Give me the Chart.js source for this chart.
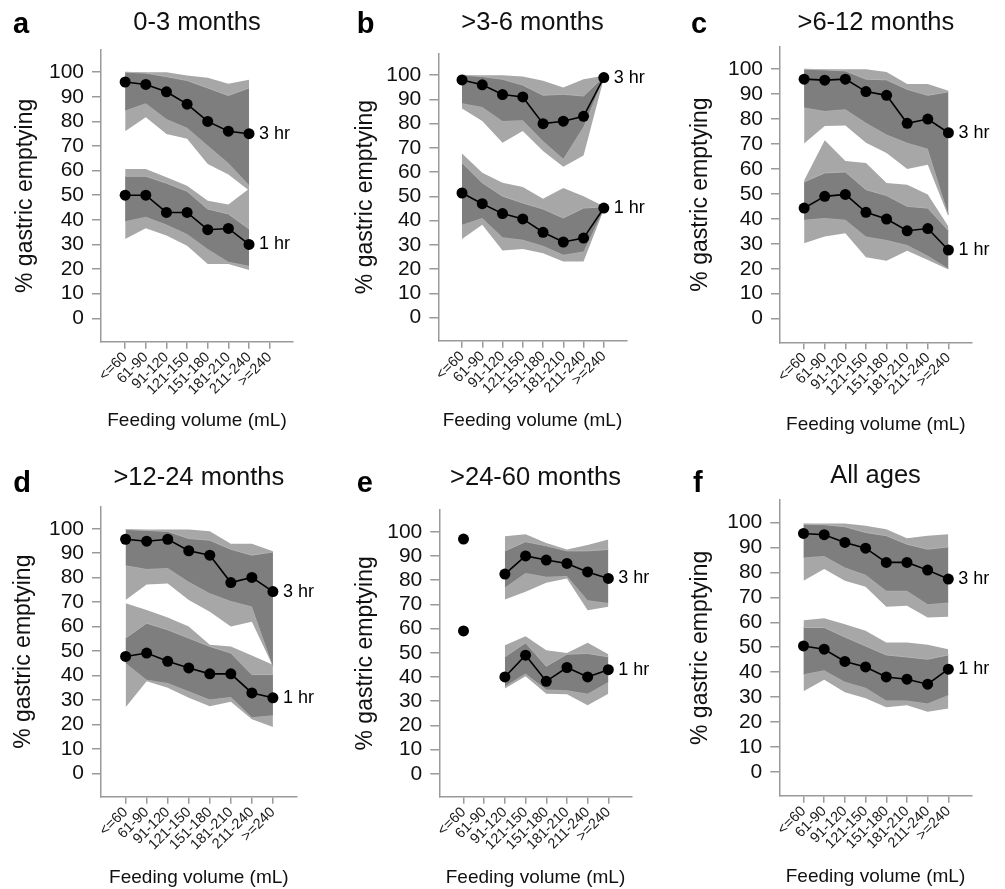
<!DOCTYPE html>
<html><head><meta charset="utf-8">
<script src="https://cdn.jsdelivr.net/npm/chart.js@4"></script>
<style>
html,body{margin:0;padding:0;background:#fff;}
body{position:relative;width:1005px;height:889px;overflow:hidden;}
canvas{position:absolute;}
</style>
</head><body>
<script>
// ---------- data ----------
const categories = ['<=60','61-90','91-120','121-150','151-180','181-210','211-240','>=240'];
const yTickValues = [0,10,20,30,40,50,60,70,80,90,100];
const panelTitles = ['0-3 months','>3-6 months','>6-12 months','>12-24 months','>24-60 months','All ages'];
const panelLetters = ['a','b','c','d','e','f'];
const seriesLabels = ['3 hr','1 hr'];

// panel a: 0-3 months
const a3Med   = [96, 95, 92, 87, 80, 76, 75, null];
const a3InHi  = [100, 99.6, 98.2, 96.6, 93.6, 90.5, 93.6, null];
const a3InLo  = [84.4, 87.4, 81, 77.4, 70.2, 63.1, 54.2, null];
const a3OutHi = [100, 100, 100, 98.6, 97.7, 95.3, 96.9, null];
const a3OutLo = [76, 81.7, 74.9, 72.9, 62.7, 58.4, 51.9, null];
const a1Med   = [50, 50, 43, 43, 36, 36.5, 30, null];
const a1InHi  = [57.7, 57.7, 54.9, 51.6, 44.4, 42.4, 36.3, null];
const a1InLo  = [39.4, 41.3, 38.1, 34.3, 28.2, 23, 21.4, null];
const a1OutHi = [60.7, 60.7, 57.3, 53.9, 47.8, 46.2, 52.6, null];
const a1OutLo = [32.2, 36.6, 33.6, 29.5, 22.1, 22.1, 19.6, null];

// panel b: >3-6 months
const b3Med   = [98, 96, 92, 91, 80, 81, 83, 99];
const b3InHi  = [100, 99.4, 98.3, 95.9, 91.7, 92.1, 91.4, 99.4];
const b3InLo  = [88.4, 86.9, 81.1, 81.4, 72.8, 65.5, 78.8, 99];
const b3OutHi = [100, 100, 100, 99.4, 97.7, 94.9, 98.3, 99.7];
const b3OutLo = [86.2, 81.1, 72.1, 77, 68.7, 62.2, 66.9, 98.6];
const b1Med   = [51.4, 47, 42.9, 40.7, 35.2, 31.2, 32.8, 45.2];
const b1InHi  = [63.9, 55.6, 50.1, 47.3, 44.8, 41.1, 45.2, 45.7];
const b1InLo  = [38.3, 41.1, 33.2, 32.1, 29.7, 25.9, 27.3, 44.8];
const b1OutHi = [67.7, 59.7, 55.6, 53.9, 49, 53.5, 50.1, 45.9];
const b1OutLo = [32.4, 38.3, 27.7, 28.3, 26.6, 23.2, 23.2, 44.6];

// panel c: >6-12 months
const c3Med   = [96, 95.6, 96, 91, 89.5, 78.3, 80, 74.5];
const c3InHi  = [100, 99.7, 99.3, 96, 95.7, 91.9, 89.5, 90.9];
const c3InLo  = [84.6, 83.2, 83.9, 78.5, 73.8, 70.5, 68.1, 41.6];
const c3OutHi = [100, 100, 100, 100, 98.9, 94, 94, 91.3];
const c3OutLo = [70.2, 77.2, 77.4, 70.5, 66.4, 60, 61.7, 40.9];
const c1Med   = [44.3, 49, 49.8, 42.6, 39.9, 35.2, 36.1, 27.5];
const c1InHi  = [54.8, 58.4, 58.8, 51.7, 49.3, 45, 44.3, 35.3];
const c1InLo  = [39.6, 40.3, 39.6, 32.9, 31.5, 29.5, 25.2, 20.1];
const c1OutHi = [55.4, 71.5, 63.2, 62.4, 54.4, 53.7, 49.8, 36.9];
const c1OutLo = [30.2, 32.9, 34.2, 24.6, 23.2, 27.2, 23.5, 19.7];

// panel d: >12-24 months
const d3Med   = [95.7, 94.9, 95.7, 91, 89.2, 78, 80.1, 74.3];
const d3InHi  = [99.7, 99.3, 98.9, 96, 95.3, 91.6, 89.2, 90.5];
const d3InLo  = [85.1, 83.5, 84, 78.3, 73.6, 70.5, 68.2, 43.8];
const d3OutHi = [99.7, 99.7, 99.7, 99.7, 99, 93.9, 93.9, 90.8];
const d3OutLo = [70.9, 77.2, 77.6, 70.9, 66.1, 60, 62, 43.8];
const d1Med   = [47.8, 49.2, 45.8, 43.1, 40.7, 40.7, 32.9, 30.9];
const d1InHi  = [55.3, 61.4, 58.7, 55.3, 51.9, 49.2, 40.4, 40.4];
const d1InLo  = [45.1, 38.3, 37, 33.6, 30.2, 31.2, 23, 23.8];
const d1OutHi = [69.5, 66.8, 63.7, 60, 52.6, 51.9, 48.2, 44.4];
const d1OutLo = [27.1, 37.7, 35, 30.9, 27.5, 29.3, 22.1, 19];

// panel e: >24-60 months
const e3Med   = [97, null, 82.5, 90, 88.3, 86.9, 83.4, 80.7];
const e3InHi  = [null, null, 92.1, 95.9, 94.2, 92.1, 92.1, 92.7];
const e3InLo  = [null, null, 77, 83, 81.4, 81.7, 71.7, 70.6];
const e3OutHi = [null, null, 98.2, 99, 95.4, 92.7, 94.5, 96.8];
const e3OutLo = [null, null, 72, 75.2, 78.9, 80.7, 67.6, 69];
const e1Med   = [59, null, 40, 49, 38.2, 43.9, 40, 43];
const e1InHi  = [null, null, 48.3, 54.1, 44.4, 49.4, 49.7, 48.3];
const e1InLo  = [null, null, 36.1, 41.4, 34.8, 34.5, 33.1, 37.9];
const e1OutHi = [null, null, 53.1, 56.8, 51, 49.9, 54.1, 49.4];
const e1OutLo = [null, null, 35.2, 40.3, 33.1, 32.8, 28.3, 33.1];

// panel f: All ages
const f3Med   = [95.6, 95.1, 92, 89.7, 84, 84, 80.9, 77.3];
const f3InHi  = [99.3, 99.1, 98.3, 96, 94.7, 91.3, 89.3, 90.2];
const f3InLo  = [86, 86.6, 81.9, 79, 72.6, 72.6, 67.2, 67.9];
const f3OutHi = [99.6, 99.6, 99.6, 98.7, 97.3, 93.7, 94.7, 95.3];
const f3OutLo = [76.6, 81.3, 76.6, 74.2, 66.2, 66.6, 61.9, 62.2];
const f1Med   = [50.5, 49.2, 44.3, 42.1, 38.1, 37.2, 35.2, 41.2];
const f1InHi  = [57.9, 57.9, 54.1, 50.5, 46.9, 46.1, 45.2, 46.9];
const f1InLo  = [39.2, 40.8, 36.2, 33.8, 28.7, 28.7, 27.4, 30.9];
const f1OutHi = [60.8, 61.6, 59.2, 56.6, 51.9, 51.9, 51, 49.2];
const f1OutLo = [32.4, 37, 32, 29.6, 25.9, 26.7, 24.1, 25.4];

const panelSeries = [
  [[a3Med,a3InHi,a3InLo,a3OutHi,a3OutLo],[a1Med,a1InHi,a1InLo,a1OutHi,a1OutLo]],
  [[b3Med,b3InHi,b3InLo,b3OutHi,b3OutLo],[b1Med,b1InHi,b1InLo,b1OutHi,b1OutLo]],
  [[c3Med,c3InHi,c3InLo,c3OutHi,c3OutLo],[c1Med,c1InHi,c1InLo,c1OutHi,c1OutLo]],
  [[d3Med,d3InHi,d3InLo,d3OutHi,d3OutLo],[d1Med,d1InHi,d1InLo,d1OutHi,d1OutLo]],
  [[e3Med,e3InHi,e3InLo,e3OutHi,e3OutLo],[e1Med,e1InHi,e1InLo,e1OutHi,e1OutLo]],
  [[f3Med,f3InHi,f3InLo,f3OutHi,f3OutLo],[f1Med,f1InHi,f1InLo,f1OutHi,f1OutLo]]
];

// ---------- layout (page pixels) ----------
const layouts = [
  {left:0,   top:0,   w:330, h:440, aL:101,   aR:293,   aT:50,    aB:341.7, tC:23.3,  yTC:25.5,  xTC:421,   lx:13,    ly:33},
  {left:330, top:0,   w:335, h:440, aL:438.3, aR:626.7, aT:53.3,  aB:340.7, tC:23.3,  yTC:365.5, xTC:421,   lx:356.7, ly:33.3},
  {left:665, top:0,   w:340, h:440, aL:780,   aR:971.7, aT:46.7,  aB:342.3, tC:23.3,  yTC:700.5, xTC:424.5, lx:691,   ly:33},
  {left:0,   top:445, w:330, h:444, aL:101,   aR:296.7, aT:506.7, aB:796.7, tC:478.3, yTC:23.8,  xTC:877.5, lx:13.3,  ly:491.7},
  {left:330, top:445, w:335, h:444, aL:439.3, aR:631.7, aT:510,   aB:796.7, tC:477.8, yTC:365.5, xTC:877.5, lx:356.7, ly:491.7},
  {left:665, top:445, w:340, h:444, aL:779.3, aR:971.7, aT:500,   aB:795.7, tC:476.3, yTC:700.5, xTC:877,   lx:693,   ly:491.7}
];

const FONT = '"Liberation Sans", Arial, Helvetica, sans-serif';
Chart.defaults.font.family = FONT;
Chart.defaults.color = '#111';

const DARK = '#7e7e7e', LIGHT = '#a7a7a7', RIM = '#b3b3b3', AXIS = '#9a9a9a';
const TITLE_SIZE = 25.5, YT_SIZE = 23, XT_SIZE = 19;

function pts(arr){ return arr.map((v,i)=>({x:i, y:v})); }
function lastIdx(arr){ for(let i=arr.length-1;i>=0;i--) if(arr[i]!==null) return i; return -1; }

const annotPlugin = {
  id:'annot',
  afterDatasetsDraw(chart, args, opts){
    const ctx = chart.ctx, xs = chart.scales.x, ys = chart.scales.y;
    ctx.save();
    ctx.fillStyle = '#000';
    ctx.font = '18px ' + FONT;
    ctx.textAlign = 'left';
    ctx.textBaseline = 'middle';
    opts.series.forEach(s => {
      const i = lastIdx(s.data);
      ctx.fillText(s.label, xs.getPixelForValue(i) + 10, ys.getPixelForValue(s.data[i]));
    });
    ctx.font = 'bold 29px ' + FONT;
    ctx.textBaseline = 'alphabetic';
    ctx.fillText(opts.letter, opts.lx, opts.ly);
    ctx.restore();
  }
};

panelTitles.forEach((title, p) => {
  const L = layouts[p];
  const cv = document.createElement('canvas');
  cv.width = L.w; cv.height = L.h;
  cv.style.left = L.left + 'px'; cv.style.top = L.top + 'px';
  cv.style.width = L.w + 'px'; cv.style.height = L.h + 'px';
  document.body.appendChild(cv);

  const yW = L.aL - L.left;
  const xH = L.top + L.h - L.aB;
  const padR = L.left + L.w - L.aR;
  const tLine = TITLE_SIZE * 1.2;
  const tPadTop = L.tC - L.top - tLine/2;
  const tPadBot = L.aT - L.tC - tLine/2;
  const yTitlePad = L.yTC - L.left - YT_SIZE*1.2/2;
  const xTitlePad = L.top + L.h - L.xTC - XT_SIZE*1.2/2;

  const [s3, s1] = panelSeries[p];
  const datasets = [
    {data:pts(s3[0]), borderColor:'#000', borderWidth:1.6, pointRadius:5.5, pointBackgroundColor:'#000', pointBorderWidth:0, fill:false, order:0},
    {data:pts(s1[0]), borderColor:'#000', borderWidth:1.6, pointRadius:5.5, pointBackgroundColor:'#000', pointBorderWidth:0, fill:false, order:0},
    // inner (dark) bands
    {data:pts(s3[1]), borderColor:RIM, borderWidth:1, pointRadius:0, backgroundColor:DARK, fill:3, order:1},
    {data:pts(s3[2]), borderColor:RIM, borderWidth:1, pointRadius:0, fill:false, order:1},
    {data:pts(s1[1]), borderColor:RIM, borderWidth:1, pointRadius:0, backgroundColor:DARK, fill:5, order:1},
    {data:pts(s1[2]), borderColor:RIM, borderWidth:1, pointRadius:0, fill:false, order:1},
    // outer (light) bands
    {data:pts(s3[3]), borderColor:'rgba(0,0,0,0)', borderWidth:1, pointRadius:0, backgroundColor:LIGHT, fill:7, order:2},
    {data:pts(s3[4]), borderColor:'rgba(0,0,0,0)', borderWidth:1, pointRadius:0, fill:false, order:2},
    {data:pts(s1[3]), borderColor:'rgba(0,0,0,0)', borderWidth:1, pointRadius:0, backgroundColor:LIGHT, fill:9, order:2},
    {data:pts(s1[4]), borderColor:'rgba(0,0,0,0)', borderWidth:1, pointRadius:0, fill:false, order:2}
  ];

  new Chart(cv, {
    type:'line',
    data:{datasets},
    plugins:[annotPlugin],
    options:{
      responsive:false, devicePixelRatio:1, animation:false,
      spanGaps:false,
      elements:{line:{tension:0}},
      layout:{padding:{left:0, top:0, right:padR, bottom:0}},
      plugins:{
        legend:{display:false},
        tooltip:{enabled:false},
        title:{display:true, text:title, fullSize:false, color:'#111',
               font:{size:TITLE_SIZE, weight:'normal'}, padding:{top:tPadTop, bottom:tPadBot}},
        annot:{letter:panelLetters[p], lx:L.lx - L.left, ly:L.ly - L.top,
               series:[{label:seriesLabels[0], data:s3[0]},{label:seriesLabels[1], data:s1[0]}]}
      },
      scales:{
        x:{
          type:'linear', min:-1.17, max:8.13,
          afterBuildTicks:s => { s.ticks = categories.map((c,i)=>({value:i})); },
          afterFit:s => { s.height = xH; },
          ticks:{autoSkip:false, maxRotation:45, minRotation:45, padding:0, color:'#1a1a1a',
                 font:{size:14.5}, callback:v => categories[v]},
          grid:{drawOnChartArea:false, drawTicks:true, tickLength:7, color:AXIS, lineWidth:1.5},
          border:{display:true, color:AXIS, width:1.5},
          title:{display:true, text:'Feeding volume (mL)', color:'#111', font:{size:XT_SIZE},
                 padding:{top:0, bottom:xTitlePad}}
        },
        y:{
          type:'linear', min:-9.5, max:109,
          afterBuildTicks:s => { s.ticks = yTickValues.map(v=>({value:v})); },
          afterFit:s => { s.width = yW; },
          ticks:{autoSkip:false, padding:8, color:'#111', font:{size:21}},
          grid:{drawOnChartArea:false, drawTicks:true, tickLength:9, color:AXIS, lineWidth:1.5},
          border:{display:true, color:AXIS, width:1.5},
          title:{display:true, text:'% gastric emptying', color:'#111', font:{size:YT_SIZE},
                 padding:{top:yTitlePad, bottom:0}}
        }
      }
    }
  });
});
</script>
</body></html>
